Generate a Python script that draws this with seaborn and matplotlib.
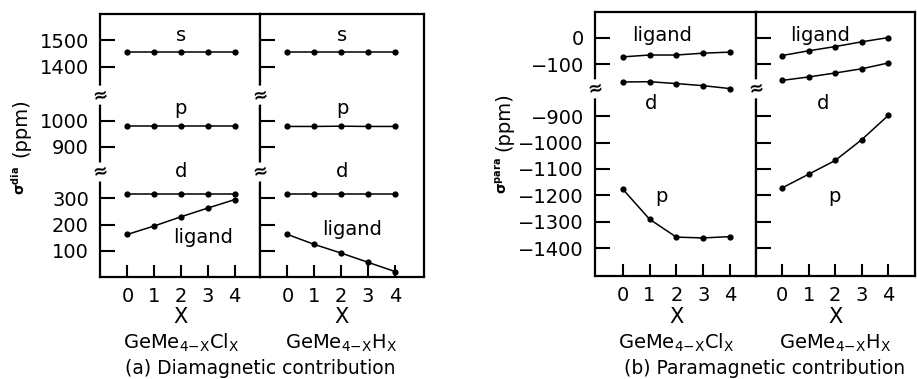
import matplotlib
matplotlib.use("Agg")
import matplotlib.pyplot as plt
import matplotlib.transforms as mtransforms
import seaborn as sns
import numpy as np


sns.set_style("ticks")
plt.rcParams["font.family"] = ["DejaVu Sans"]
plt.rcParams["mathtext.fontset"] = "dejavusans"
for key in ["text.color", "axes.labelcolor", "xtick.color", "ytick.color", "axes.edgecolor"]:
    plt.rcParams[key] = "black"


x = [0, 1, 2, 3, 4]

# (a) diamagnetic contribution, ppm
dia_s_cl = [1456, 1456, 1456, 1456, 1456]
dia_p_cl = [978, 978, 978, 978, 978]
dia_d_cl = [317, 317, 317, 317, 317]
dia_lig_cl = [163, 195, 230, 263, 295]

dia_s_h = [1456, 1456, 1456, 1456, 1456]
dia_p_h = [978, 978, 979, 978, 978]
dia_d_h = [317, 317, 317, 317, 317]
dia_lig_h = [163, 125, 92, 57, 22]

# (b) paramagnetic contribution, ppm
para_lig_cl = [-73, -66, -66, -59, -55]
para_d_cl = [-168, -167, -174, -182, -193]
para_p_cl = [-1176, -1290, -1358, -1361, -1356]

para_lig_h = [-68, -50, -34, -16, 0]
para_d_h = [-162, -149, -134, -118, -96]
para_p_h = [-1172, -1120, -1068, -989, -897]

dia_ticks = [100, 200, 300, 900, 1000, 1400, 1500]
para_ticks = [0, -100, -900, -1000, -1100, -1200, -1300, -1400]

# broken axis: data value -> display value
dia_knots = ([0, 400, 805, 1097, 1292, 1600], [0, 400, 400, 692, 692, 1000])
para_knots = ([-1505, -797, -194, 98], [0, 708, 708, 1000])


def broken_scale(knots):
    data_k, disp_k = knots

    def fwd(v):
        return np.interp(v, data_k, disp_k)

    def inv(v):
        return np.interp(v, disp_k, data_k)
    return fwd, inv


def draw_series(ax, series):
    for vals in series:
        sns.lineplot(x=x, y=vals, ax=ax, color="black", linewidth=1.1,
                     marker="o", markersize=4.5, markeredgewidth=0)


def style_panel(ax, knots, ticks, xlim, show_labels):
    ax.set_yscale("function", functions=broken_scale(knots))
    ax.set_ylim(knots[0][0], knots[0][-1])
    ax.set_yticks(ticks)
    ax.set_yticklabels([str(t).replace("-", "\u2212") for t in ticks])
    ax.set_xlim(*xlim)
    ax.set_xticks(x)
    ax.tick_params(axis="y", direction="in", length=11, width=1.5,
                   labelsize=14, pad=8, labelleft=show_labels, right=False)
    ax.tick_params(axis="x", direction="in", length=8.5, width=1.5,
                   labelsize=14, pad=7, top=False)
    ax.minorticks_off()
    for sp in ax.spines.values():
        sp.set_linewidth(1.6)
        sp.set_color("black")
    ax.set_xlabel("")
    ax.set_ylabel("")


def breaks(ax, fracs):
    for f in fracs:
        ax.text(0, f, "\u2248", transform=ax.transAxes, ha="center", va="center",
                fontsize=13, fontweight="bold", rotation=10,
                bbox=dict(facecolor="white", edgecolor="none", pad=0.2))


def bottom_text(fig, ax, formula):
    tr = mtransforms.blended_transform_factory(ax.transData, fig.transFigure)
    ax.text(2, 0.1636, "X", transform=tr, ha="center", va="center", fontsize=15)
    ax.text(2, 0.095, formula, transform=tr, ha="center", va="center", fontsize=14)


fig = plt.figure(figsize=(9.17, 3.79), dpi=100)

ax_a1 = fig.add_axes([0.1091, 0.2683, 0.1745, 0.6947])
ax_a2 = fig.add_axes([0.2835, 0.2683, 0.1788, 0.6947])
ax_b1 = fig.add_axes([0.6489, 0.2718, 0.1756, 0.6974])
ax_b2 = fig.add_axes([0.8244, 0.2718, 0.1734, 0.6974])

draw_series(ax_a1, [dia_s_cl, dia_p_cl, dia_d_cl, dia_lig_cl])
draw_series(ax_a2, [dia_s_h, dia_p_h, dia_d_h, dia_lig_h])
draw_series(ax_b1, [para_lig_cl, para_d_cl, para_p_cl])
draw_series(ax_b2, [para_lig_h, para_d_h, para_p_h])

style_panel(ax_a1, dia_knots, dia_ticks, (-1.02, 4.95), True)
style_panel(ax_a2, dia_knots, dia_ticks, (-1.02, 5.08), False)
style_panel(ax_b1, para_knots, para_ticks, (-1.03, 4.97), True)
style_panel(ax_b2, para_knots, para_ticks, (-0.98, 5.0), False)

for ax in (ax_a1, ax_a2):
    breaks(ax, [0.4, 0.692])
for ax in (ax_b1, ax_b2):
    breaks(ax, [0.708])

# curve labels
for ax, items in [
    (ax_a1, [(0.504, 0.92, "s"), (0.504, 0.643, "p"), (0.504, 0.401, "d"), (0.646, 0.152, "ligand")]),
    (ax_a2, [(0.502, 0.92, "s"), (0.502, 0.643, "p"), (0.502, 0.401, "d"), (0.559, 0.182, "ligand")]),
    (ax_b1, [(0.414, 0.908, "ligand"), (0.346, 0.653, "d"), (0.414, 0.30, "p")]),
    (ax_b2, [(0.40, 0.908, "ligand"), (0.42, 0.653, "d"), (0.494, 0.30, "p")]),
]:
    for tx, ty, s in items:
        ax.text(tx, ty, s, transform=ax.transAxes, ha="center", va="center", fontsize=14)

bottom_text(fig, ax_a1, r"GeMe$_{4\mathrm{-X}}$Cl$_\mathrm{X}$")
bottom_text(fig, ax_a2, r"GeMe$_{4\mathrm{-X}}$H$_\mathrm{X}$")
bottom_text(fig, ax_b1, r"GeMe$_{4\mathrm{-X}}$Cl$_\mathrm{X}$")
bottom_text(fig, ax_b2, r"GeMe$_{4\mathrm{-X}}$H$_\mathrm{X}$")

fig.text(260 / 917, 0.029, "(a) Diamagnetic contribution", ha="center", va="center", fontsize=13.5)
fig.text(765 / 917, 0.029, "(b) Paramagnetic contribution", ha="center", va="center", fontsize=13.5)

# y labels: small bold sigma symbol plus "(ppm)"
fig.text(21 / 917, 1 - 128 / 379, "(ppm)", rotation=90, ha="center", va="center", fontsize=14)
fig.text(19 / 917, 1 - 181 / 379, r"$\mathbf{\sigma^{dia}}$", rotation=90,
         ha="center", va="center", fontsize=10)
fig.text(504 / 917, 1 - 122 / 379, "(ppm)", rotation=90, ha="center", va="center", fontsize=14)
fig.text(502 / 917, 1 - 176 / 379, r"$\mathbf{\sigma^{para}}$", rotation=90,
         ha="center", va="center", fontsize=10)

fig.savefig("out.png", dpi=100)
